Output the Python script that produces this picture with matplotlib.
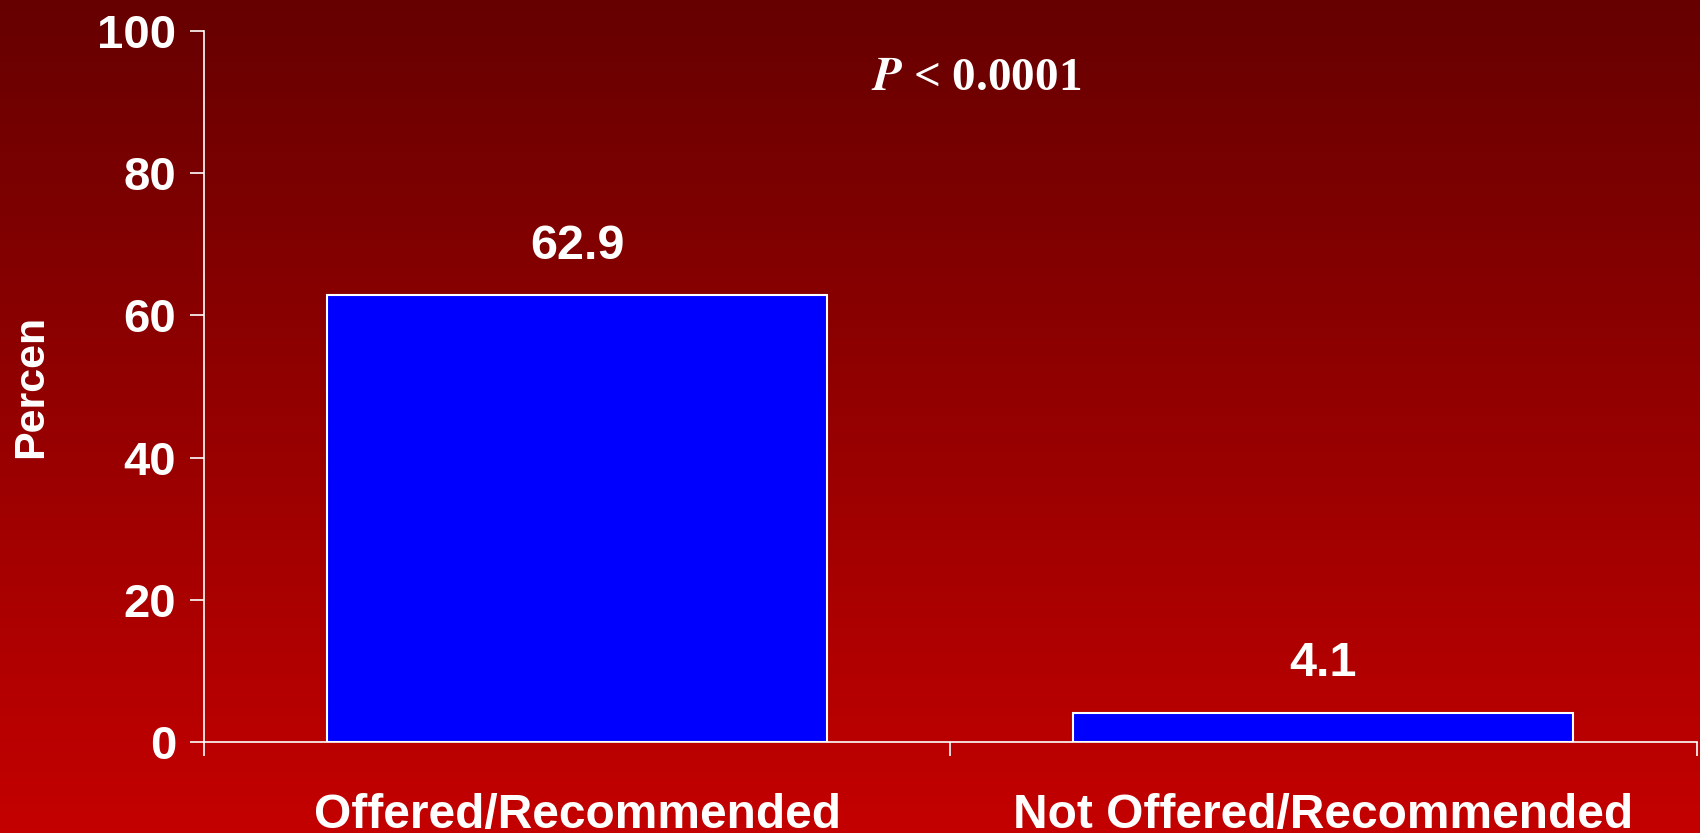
import numpy as np
import matplotlib
matplotlib.use("Agg")
import matplotlib.pyplot as plt
from matplotlib.colors import LinearSegmentedColormap

# data
categories = ["Offered/Recommended", "Not Offered/Recommended"]
percent = [62.9, 4.1]
value_labels = ["62.9", "4.1"]
y_ticks = [0, 20, 40, 60, 80, 100]

plt.rcParams['font.family'] = ['Liberation Sans', 'DejaVu Sans']

fig = plt.figure(figsize=(17, 8.33), dpi=100)

# dark red vertical gradient background
bg = fig.add_axes([0, 0, 1, 1], zorder=0)
grad = np.linspace(0, 1, 256).reshape(-1, 1)
cmap = LinearSegmentedColormap.from_list("bg", ["#c40000", "#660000"])
bg.imshow(grad, aspect="auto", cmap=cmap, origin="lower", extent=[0, 1, 0, 1])
bg.set_axis_off()

ax = fig.add_axes([0.12, 0.1097, 0.878, 0.8526], zorder=1)
ax.patch.set_alpha(0)

x = np.arange(len(categories))
ax.bar(x, percent, width=0.67, color="#0000ff", edgecolor="white", linewidth=1.5)

for xi, v, lab in zip(x, percent, value_labels):
    ax.annotate(lab, (xi, v), xytext=(0, 35), textcoords="offset points",
                ha="center", va="center", color="white", fontsize=35, fontweight="bold")

ax.set_xlim(-0.5, 1.5)
ax.set_ylim(0, 100)
ax.set_yticks(y_ticks)
ax.set_yticklabels([str(t) for t in y_ticks], fontsize=34, fontweight="bold", color="white")
ax.tick_params(axis="y", colors="white", length=10, width=1.2, pad=10)

ax.set_xticks(x)
ax.set_xticklabels(categories, fontsize=34.5, fontweight="bold", color="white")
ax.tick_params(axis="x", which="major", length=0, pad=37)
ax.set_xticks([-0.5, 0.5, 1.5], minor=True)
ax.tick_params(axis="x", which="minor", colors="white", length=10, width=1.2)

for side in ["top", "right"]:
    ax.spines[side].set_visible(False)
for side in ["left", "bottom"]:
    ax.spines[side].set_color("white")
    ax.spines[side].set_linewidth(1.2)

ax.set_ylabel("Percen", fontsize=31, fontweight="bold", color="white", labelpad=33)

fig.text(0.574, 0.905, r"$\mathbfit{P}$ < 0.0001", ha="center", va="center",
         color="white", fontsize=34, fontweight="bold", family=["Liberation Serif"],
         math_fontfamily="stix")

fig.savefig("out.png", dpi=100)
